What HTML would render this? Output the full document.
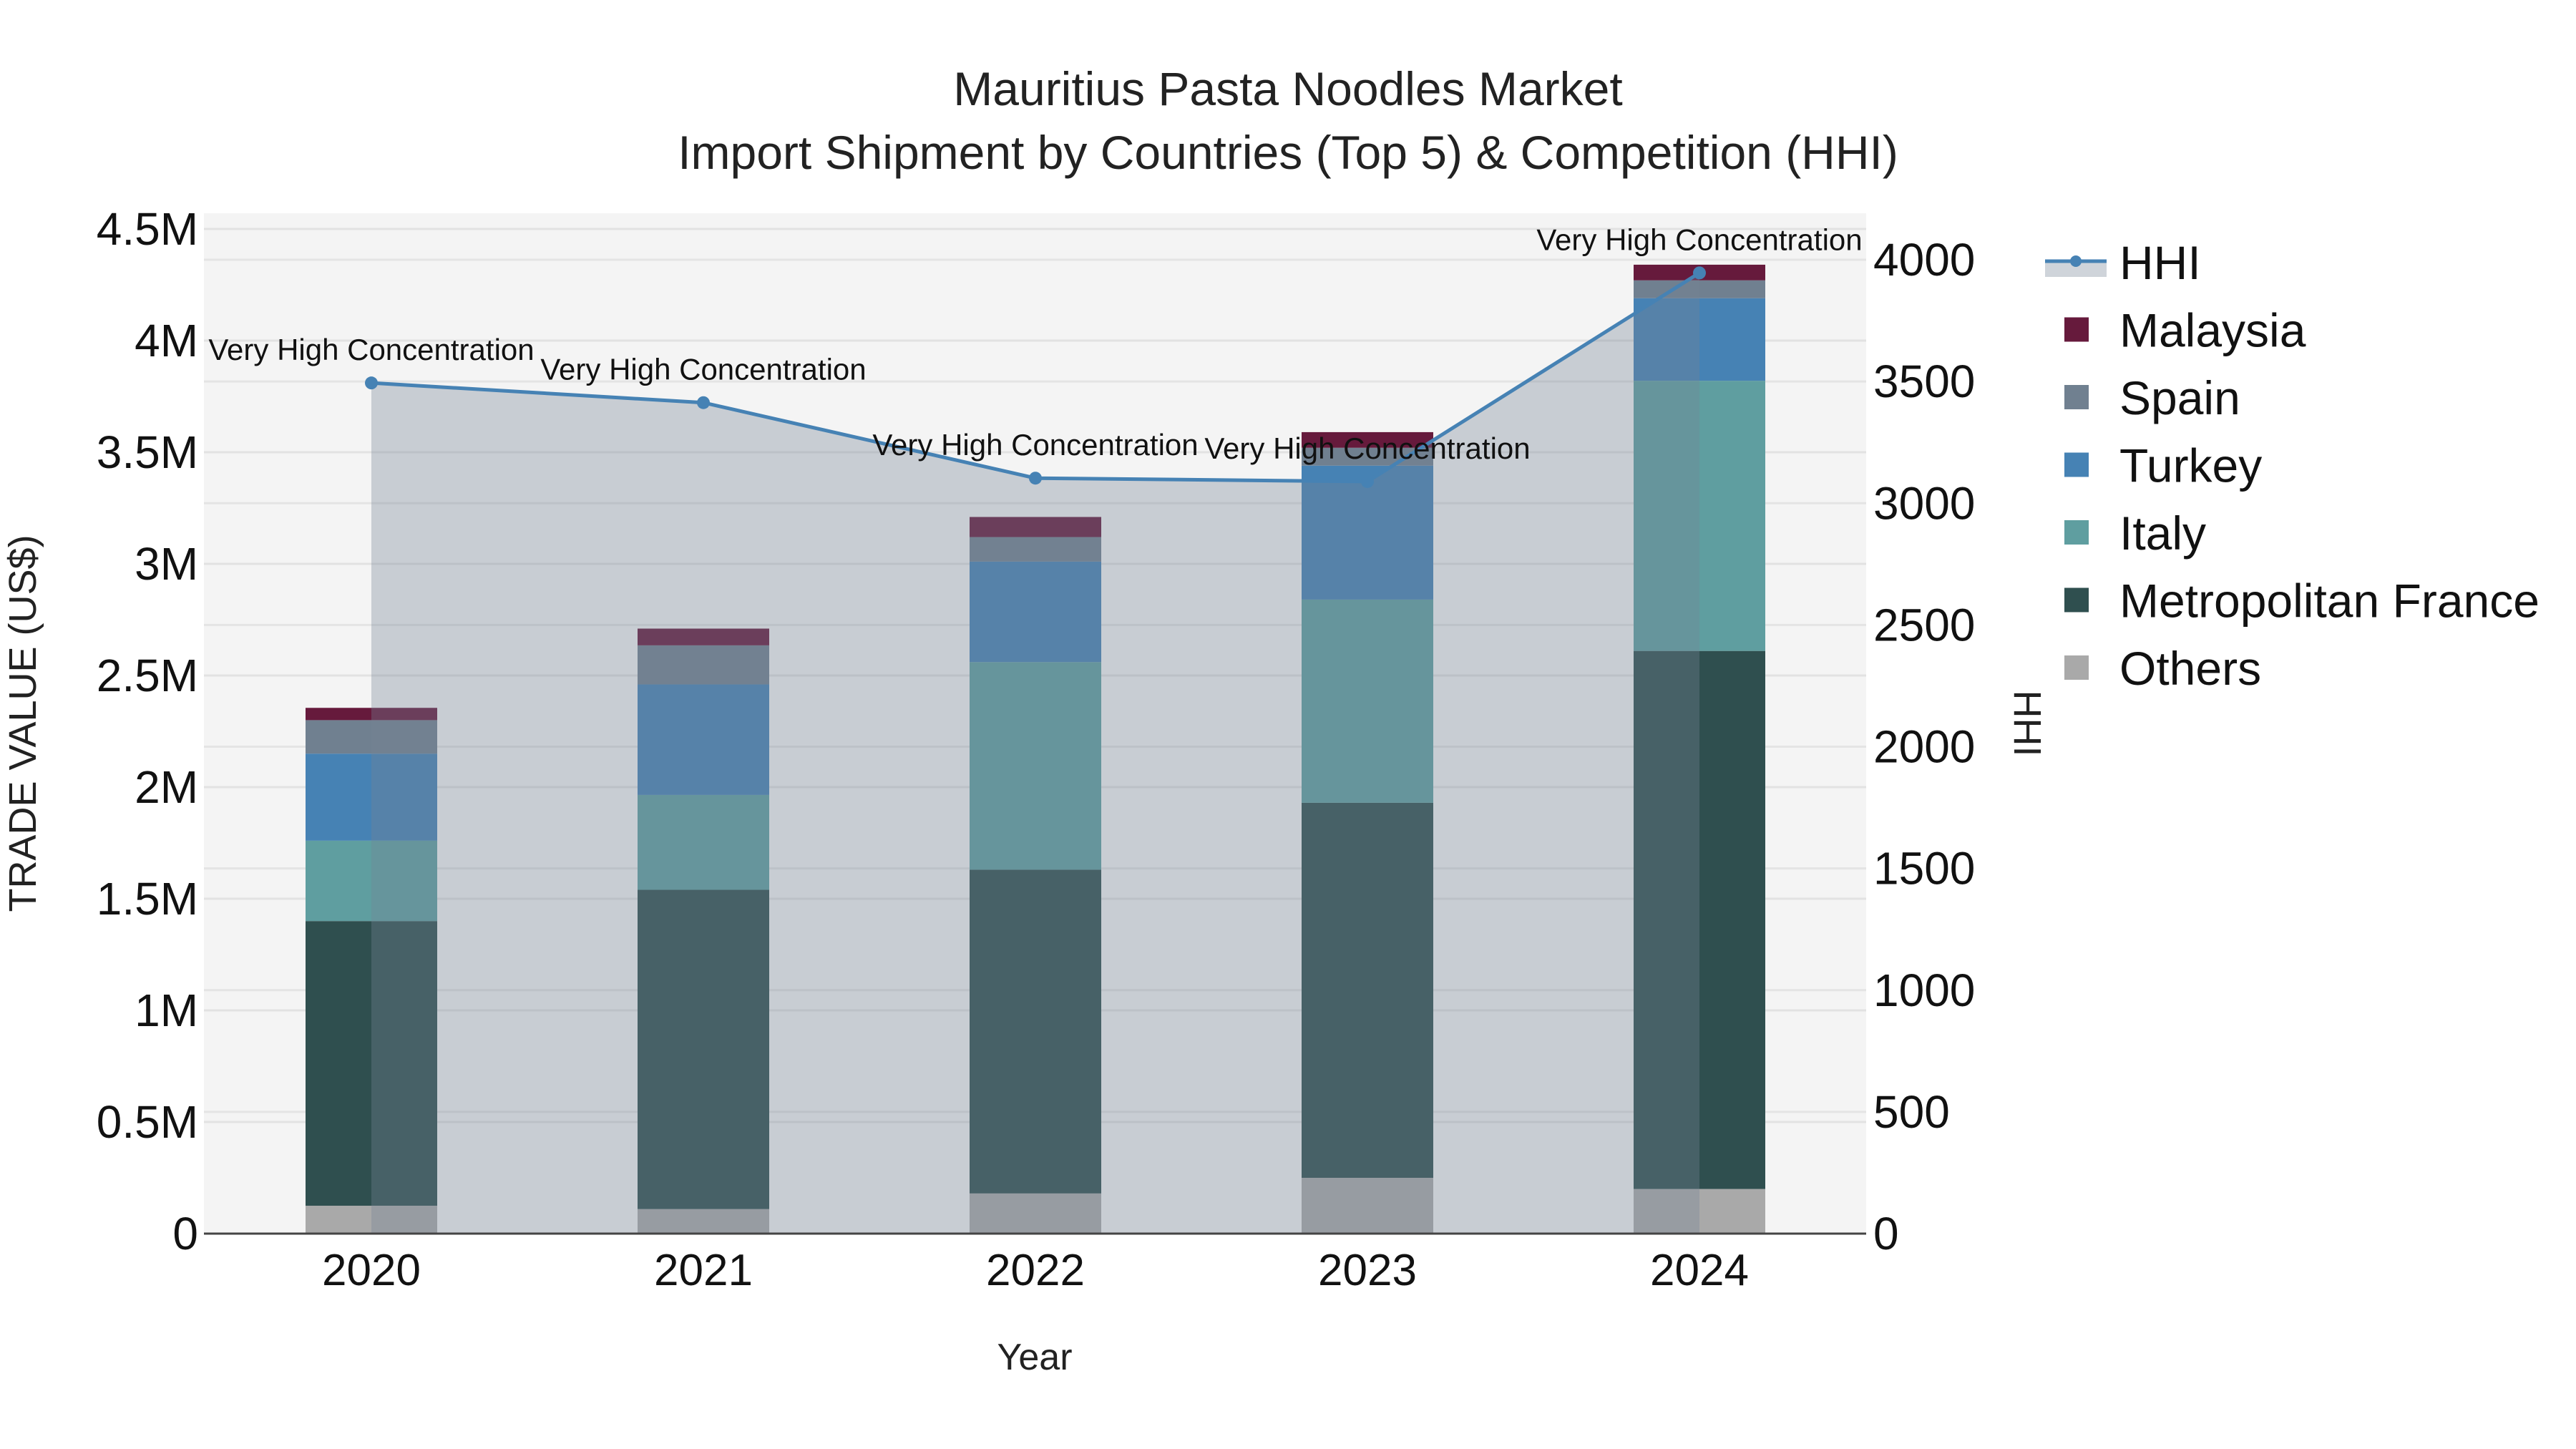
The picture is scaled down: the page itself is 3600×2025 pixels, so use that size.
<!DOCTYPE html>
<html><head><meta charset="utf-8">
<style>
html,body{margin:0;padding:0;background:#fff;}
svg{display:block;font-family:"Liberation Sans",Arial,sans-serif;}
</style></head>
<body>
<svg id="chart" width="3600" height="2025" viewBox="0 0 3600 2025" xmlns="http://www.w3.org/2000/svg">
<rect x="0" y="0" width="3600" height="2025" fill="#fff"/>
<text x="1800" y="147" text-anchor="middle" font-size="66" fill="#222">Mauritius Pasta Noodles Market</text>
<text x="1800" y="236" text-anchor="middle" font-size="66" fill="#222">Import Shipment by Countries (Top 5) &amp; Competition (HHI)</text>
<g id="plot"></g>
</svg>
<script>
const years = ["2020","2021","2022","2023","2024"];
const seriesNames = ["Others","Metropolitan France","Italy","Turkey","Spain","Malaysia"];
const others = [0.125,0.11,0.18,0.25,0.20];
const france = [1.275,1.43,1.45,1.68,2.41];
const italy = [0.36,0.425,0.93,0.91,1.21];
const turkey = [0.39,0.495,0.45,0.60,0.37];
const spain = [0.15,0.175,0.11,0.08,0.08];
const malaysia = [0.055,0.075,0.09,0.07,0.07];
const hhi = [3494,3413,3103,3089,3946];
const leftTicks = [0,0.5,1,1.5,2,2.5,3,3.5,4,4.5];
const leftTickLabels = ["0","0.5M","1M","1.5M","2M","2.5M","3M","3.5M","4M","4.5M"];
const rightTicks = [0,500,1000,1500,2000,2500,3000,3500,4000];
const hhiLabel = "Very High Concentration";

const NS="http://www.w3.org/2000/svg";
const g=document.getElementById('plot');
function el(tag,attrs,parent){const e=document.createElementNS(NS,tag);for(const k in attrs)e.setAttribute(k,attrs[k]);(parent||g).appendChild(e);return e;}
const L=285,R=2608,T=298,B=1724;
const yL=v=>B-v*312;
const yR=v=>B-v*(1361/4000);
const xC=i=>519+i*464;
const BW=184;

let e=el('rect',{x:L,y:T,width:R-L,height:B-T,fill:'#f4f4f4'});


rightTicks.forEach(t=>{let l=el('line',{x1:L,x2:R,y1:yR(t),y2:yR(t),stroke:'#e4e4e4','stroke-width':3});

});
leftTicks.forEach((t,i)=>{let l=el('line',{x1:L,x2:R,y1:yL(t),y2:yL(t),stroke:'#e2e2e2','stroke-width':3});


let tx=el('text',{x:L-8,y:yL(t)+22,'text-anchor':'end','font-size':64,fill:'#111'});tx.textContent=leftTickLabels[i];

});
rightTicks.forEach(t=>{let tx=el('text',{x:R+10,y:yR(t)+22,'font-size':64,fill:'#111'});tx.textContent=String(t);

});

const series=[others,france,italy,turkey,spain,malaysia];
const colors=['#a9a9a9','#2f4f4f','#5f9ea0','#4682b4','#708090','#661a3c'];
years.forEach((yr,i)=>{let base=0;
 series.forEach((s,k)=>{const v=s[i];
  let r=el('rect',{x:xC(i)-BW/2,y:yL(base+v),width:BW,height:yL(base)-yL(base+v),fill:colors[k]});
  
  
  base+=v;});
 let tx=el('text',{x:xC(i),y:B+72,'text-anchor':'middle','font-size':62,fill:'#111'});tx.textContent=yr;
 
 
});
let pts=hhi.map((h,i)=>xC(i)+','+yR(h)).join(' ');
let area=el('polygon',{points:xC(0)+','+B+' '+pts+' '+xC(hhi.length-1)+','+B,fill:'rgba(118,132,150,0.35)'});


let ax=el('line',{x1:L,x2:R,y1:B,y2:B,stroke:'#444','stroke-width':3});


let pl=el('polyline',{points:pts,fill:'none',stroke:'#4682b4','stroke-width':5});


hhi.forEach((h,i)=>{let c=el('circle',{cx:xC(i),cy:yR(h),r:9,fill:'#4682b4'});
 
 
 let a=el('text',{x:xC(i),y:yR(h)-32,'text-anchor':'middle','font-size':42,fill:'#111'});a.textContent=hhiLabel;
 
 });

let xt=el('text',{x:1446,y:1914,'text-anchor':'middle','font-size':52,fill:'#222'});xt.textContent='Year';


let yt=el('text',{x:0,y:0,'text-anchor':'middle','font-size':54,fill:'#222',transform:'translate(50,1011) rotate(-90)'});yt.textContent='TRADE VALUE (US$)';


let rt=el('text',{x:0,y:0,'text-anchor':'middle','font-size':54,fill:'#222',transform:'translate(2815,1011) rotate(90)'});rt.textContent='HHI';



const legNames=["HHI","Malaysia","Spain","Turkey","Italy","Metropolitan France","Others"];
const legColors=[null,'#661a3c','#708090','#4682b4','#5f9ea0','#2f4f4f','#a9a9a9'];
legNames.forEach((n,i)=>{const y=367+i*94.5;
 const grp=el('g',{});
 
 
 if(i===0){el('rect',{x:2858,y:y-2,width:86,height:22,fill:'rgba(118,132,150,0.35)'},grp);
  el('line',{x1:2858,x2:2944,y1:y-2,y2:y-2,stroke:'#4682b4','stroke-width':5},grp);
  el('circle',{cx:2901,cy:y-2,r:8,fill:'#4682b4'},grp);}
 else el('rect',{x:2885,y:y-18,width:34,height:34,fill:legColors[i]},grp);
 const t=el('text',{x:2962,y:y+23,'font-size':66,fill:'#111'},grp);t.textContent=n;});
</script>
</body></html>
